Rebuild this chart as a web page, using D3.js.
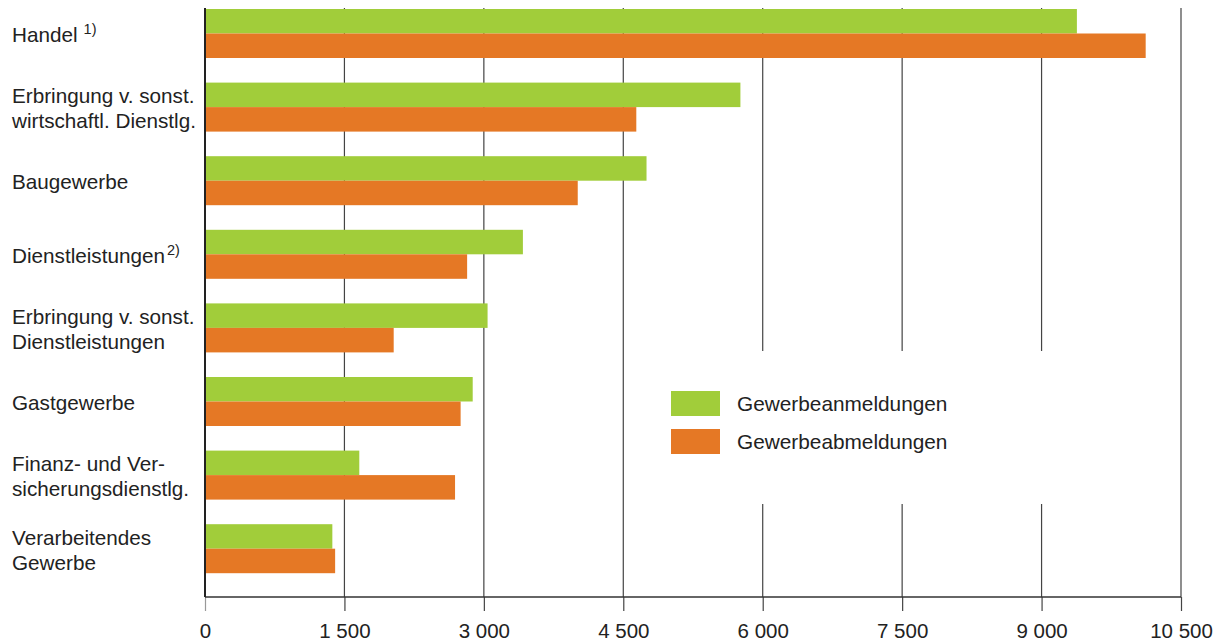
<!DOCTYPE html>
<html>
<head>
<meta charset="utf-8">
<script src="https://cdn.jsdelivr.net/npm/d3@7"></script>
<style>
  body { margin: 0; background: #fff; }
  svg { display: block; font-family: "Liberation Sans", Arial, sans-serif; }
</style>
</head>
<body>
<svg width="1223" height="642"></svg>
<script>
// categories (label lines + optional superscript note)
var categories = ["Handel", "Erbringung wirtschaftl.", "Baugewerbe", "Dienstleistungen",
                  "Erbringung Dienstleistungen", "Gastgewerbe", "Finanz", "Verarbeitendes"];
var labelLines = [
    ["Handel"],
    ["Erbringung v. sonst.", "wirtschaftl. Dienstlg."],
    ["Baugewerbe"],
    ["Dienstleistungen"],
    ["Erbringung v. sonst.", "Dienstleistungen"],
    ["Gastgewerbe"],
    ["Finanz- und Ver-", "sicherungsdienstlg."],
    ["Verarbeitendes", "Gewerbe"]
];
var notes = [" 1)", "", "", "2)", "", "", "", ""];

var anmeldungen = [9380, 5760, 4750, 3420, 3040, 2880, 1660, 1370];
var abmeldungen = [10120, 4640, 4010, 2820, 2030, 2750, 2690, 1400];

var seriesNames = ["Gewerbeanmeldungen", "Gewerbeabmeldungen"];
var colors = ["#a1cd3a", "#e57825"];
var xTicks = [0, 1500, 3000, 4500, 6000, 7500, 9000, 10500];

var svg = d3.select("svg");
var plotLeft = 205, plotRight = 1181, plotTop = 8, plotBottom = 597;

var x = d3.scaleLinear().domain([0, 10500]).range([plotLeft, plotRight]);
var y = d3.scaleBand().domain(categories).range([plotTop + 1, plotTop + 1 + 8 * 73.6]).paddingInner(0).paddingOuter(0);
var barH = 24.5;

var fmt = d3.formatLocale({decimal: ",", thousands: " ", grouping: [3], currency: ["", "€"]}).format(",d");

// gridlines
svg.append("g")
    .selectAll("line")
    .data(xTicks.slice(1))
    .enter().append("line")
    .attr("x1", function(d) { return x(d); })
    .attr("x2", function(d) { return x(d); })
    .attr("y1", plotTop)
    .attr("y2", plotBottom)
    .style("stroke", "#444")
    .style("stroke-width", 1.2);

// gap in the gridlines behind the legend
svg.append("rect")
    .attr("x", 640).attr("y", 351)
    .attr("width", 530).attr("height", 153)
    .style("fill", "#fff");

// bars
var rows = svg.append("g").selectAll("g")
    .data(categories)
    .enter().append("g");

rows.append("rect")
    .attr("x", x(0))
    .attr("y", function(d) { return y(d); })
    .attr("width", function(d, i) { return x(anmeldungen[i]) - x(0); })
    .attr("height", barH)
    .style("fill", colors[0]);

rows.append("rect")
    .attr("x", x(0))
    .attr("y", function(d) { return y(d) + barH; })
    .attr("width", function(d, i) { return x(abmeldungen[i]) - x(0); })
    .attr("height", barH)
    .style("fill", colors[1]);

// category labels
var lineH = 24.7;
rows.each(function(d, i) {
    var lines = labelLines[i];
    var cy = y(d) + barH;
    var t = d3.select(this).append("text")
        .attr("x", 12)
        .style("font-size", "20.7px")
        .style("fill", "#222");
    lines.forEach(function(l, j) {
        var base = cy + 8.5 + (j - (lines.length - 1) / 2) * lineH;
        t.append("tspan").attr("x", 12).attr("y", base).text(l);
    });
    if (notes[i]) {
        t.append("tspan")
            .attr("dx", 2)
            .attr("dy", -8)
            .style("font-size", "14.5px")
            .text(notes[i]);
    }
});

// x axis
var xAxis = d3.axisBottom(x).tickValues(xTicks).tickSize(14).tickPadding(12).tickFormat(fmt);
var ax = svg.append("g")
    .attr("transform", "translate(0," + plotBottom + ")")
    .call(xAxis);
ax.select(".domain").remove();
ax.selectAll(".tick line").style("stroke", "#444").style("stroke-width", 1.2);
ax.select(".tick line").style("stroke", "#999");
ax.selectAll(".tick text")
    .style("font-size", "20.5px")
    .style("font-family", "Liberation Sans, Arial, sans-serif")
    .style("fill", "#222");

svg.append("line")
    .attr("x1", plotLeft).attr("x2", plotRight)
    .attr("y1", plotBottom).attr("y2", plotBottom)
    .style("stroke", "#333").style("stroke-width", 1.5);

svg.append("line")
    .attr("x1", plotLeft).attr("x2", plotLeft)
    .attr("y1", plotTop).attr("y2", plotBottom)
    .style("stroke", "#222").style("stroke-width", 2);

// legend
var legend = svg.append("g").selectAll("g")
    .data(seriesNames)
    .enter().append("g")
    .attr("transform", function(d, i) { return "translate(671," + (391 + i * 38) + ")"; });

legend.append("rect")
    .attr("width", 49).attr("height", 25)
    .style("fill", function(d, i) { return colors[i]; });

legend.append("text")
    .attr("x", 66).attr("y", 20)
    .style("font-size", "20.8px")
    .style("fill", "#222")
    .text(function(d) { return d; });
</script>
</body>
</html>
